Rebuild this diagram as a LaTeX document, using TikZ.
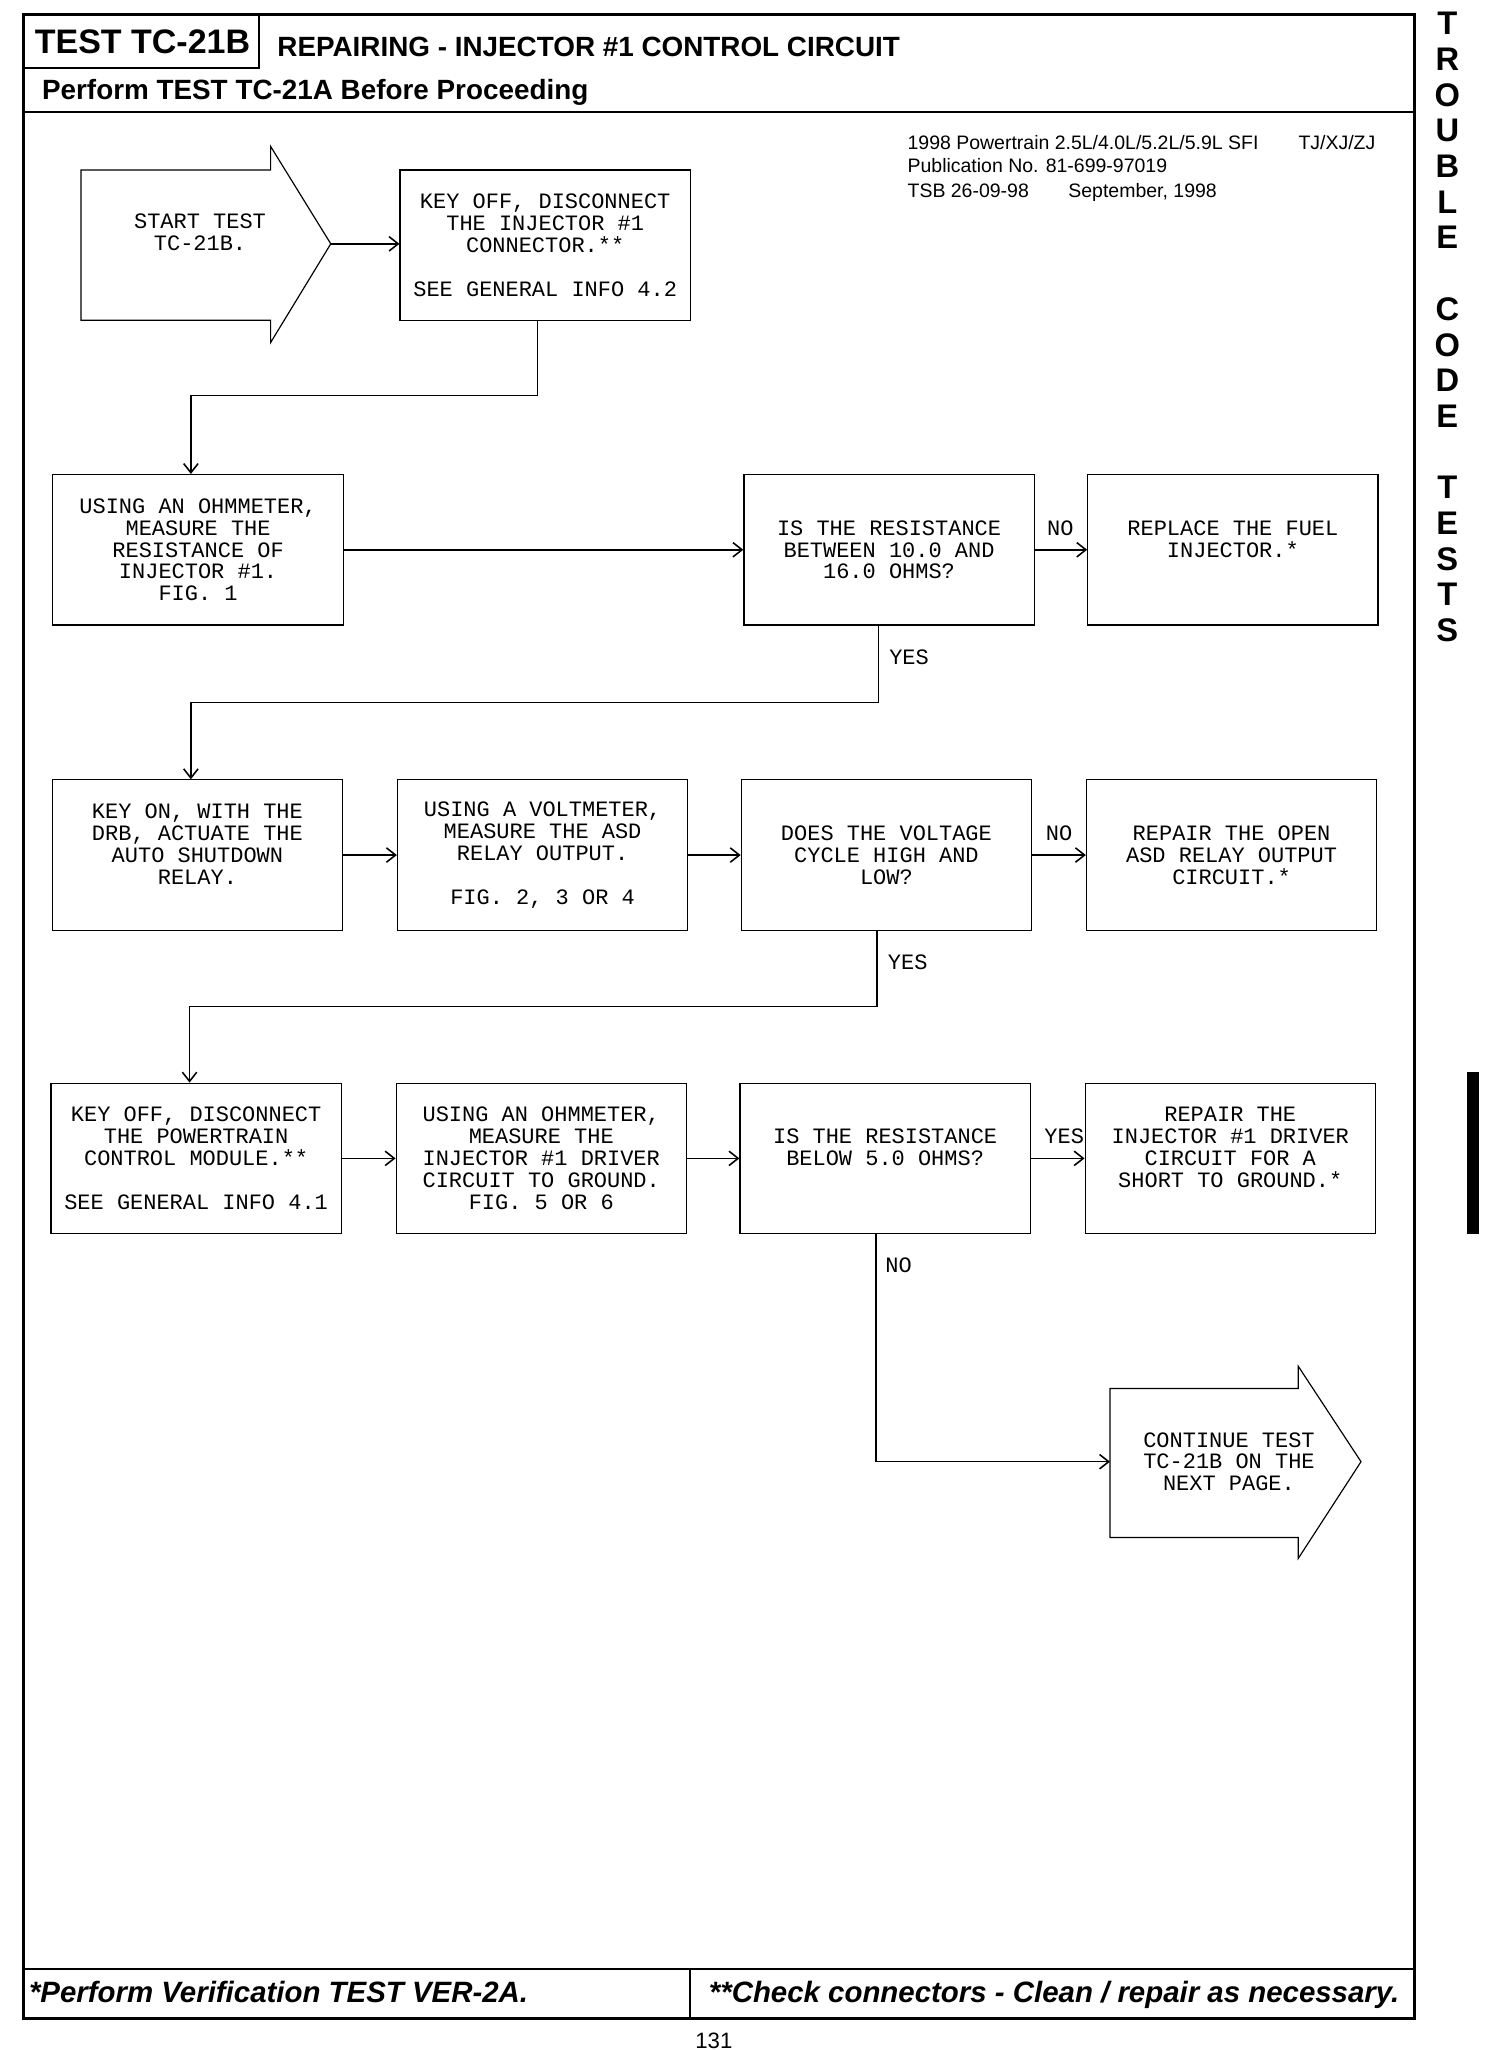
\documentclass[tikz,border=0pt]{standalone}
\usepackage{fontspec}
\setmainfont{Liberation Sans}
\newfontfamily\monof{Liberation Mono}
\usetikzlibrary{arrows.meta,calc}
\begin{document}
\begin{tikzpicture}[x=1pt,y=-1pt,
  boxfont/.style={font=\monof\fontsize{16.8}{16.7}\selectfont},
  box/.style={draw,line width=0.9pt,minimum width=222pt,minimum height=115pt,inner sep=0pt,align=center,boxfont},
  lbl/.style={inner sep=0pt,boxfont},
  txt/.style={inner sep=0pt,align=center,boxfont},
  conn/.style={line width=1.2pt,-{Straight Barb[length=7pt,width=11pt]}},
  shapeline/.style={line width=0.9pt},
  frameline/.style={line width=2pt},
  hdr/.style={inner sep=0pt,anchor=base west,font=\bfseries\fontsize{21.3}{24}\selectfont},
  info/.style={inner sep=0pt,anchor=base west,font=\fontsize{14.9}{17}\selectfont},
  side/.style={inner sep=0pt,font=\bfseries\fontsize{25}{25}\selectfont},
  foot/.style={inner sep=0pt,anchor=base west,font=\bfseries\itshape\fontsize{22.5}{25}\selectfont}
]
\useasboundingbox (0,0) rectangle (1150,1568);

% page frame
\draw[frameline] (18,11) rectangle (1082,1544);
\draw[line width=1.6pt] (18,11) rectangle (198,52);
\draw[line width=1.6pt] (18,86) -- (1082,86);
\draw[line width=1.6pt] (18,1506) -- (1082,1506);
\draw[line width=1.6pt] (528,1506) -- (528,1544);

% header texts
\node[inner sep=0pt,font=\bfseries\fontsize{26}{28}\selectfont] (tnum) at (109,32) {TEST TC-21B};
\node[hdr] (title) at (212,43) {REPAIRING - INJECTOR \#1 CONTROL CIRCUIT};
\node[hdr] (subtitle) at (32,76) {Perform TEST TC-21A Before Proceeding};
\node[info] (info1) at (694,114) {1998 Powertrain 2.5L/4.0L/5.2L/5.9L SFI};
\node[info] (info1b) at (993,114) {TJ/XJ/ZJ};
\node[info] (info2) at (694,132) {Publication No. 81-699-97019};
\node[info] (info3) at (694,151) {TSB 26-09-98};
\node[info] (info3b) at (817,151) {September, 1998};

% footer texts
\node[foot] (foot1) at (22,1532) {*Perform Verification TEST VER-2A.};
\node[foot] (foot2) at (542,1532) {**Check connectors - Clean / repair as necessary.};
\node[inner sep=0pt,font=\fontsize{17}{19}\selectfont] (pagenum) at (546,1561) {131};

% side tab
\foreach \k/\L in {0/T,1/R,2/O,3/U,4/B,5/L,6/E,8/C,9/O,10/D,11/E,13/T,14/E,15/S,16/T,17/S}
  \node[side] (side\k) at (1107,{18+27.3*\k}) {\L};
\fill (1122,820) rectangle (1131,944);

% start arrow
\draw[shapeline] (62,130) -- (207,130) -- (207,112) -- (253,186.5) -- (207,262) -- (207,245) -- (62,245) -- cycle;
\coordinate (starttip) at (253,186.5);
\node[txt] (start) at (153,186) {START TEST\\TC-21B.\\~};

% boxes
\node[box] (b1) at (417,187.5) {KEY OFF, DISCONNECT\\THE INJECTOR \#1\\CONNECTOR.**\\~\\SEE GENERAL INFO 4.2};

\node[box,minimum width=223pt] (bA) at (151.5,420.5) {USING AN OHMMETER,\\MEASURE THE\\RESISTANCE OF\\INJECTOR \#1.\\FIG. 1};
\node[box] (bB) at (680,420.5) {IS THE RESISTANCE\\BETWEEN 10.0 AND\\16.0 OHMS?};
\node[box] (bC) at (943,420.5) {REPLACE THE FUEL\\INJECTOR.*\\~};

\node[box] (bD) at (151,654) {KEY ON, WITH THE\\DRB, ACTUATE THE\\AUTO SHUTDOWN\\RELAY.\\~};
\node[box] (bE) at (415,654) {USING A VOLTMETER,\\MEASURE THE ASD\\RELAY OUTPUT.\\~\\FIG. 2, 3 OR 4};
\node[box] (bF) at (678,654) {DOES THE VOLTAGE\\CYCLE HIGH AND\\LOW?};
\node[box] (bG) at (942,654) {REPAIR THE OPEN\\ASD RELAY OUTPUT\\CIRCUIT.*};

\node[box] (bH) at (150,886) {KEY OFF, DISCONNECT\\THE POWERTRAIN\\CONTROL MODULE.**\\~\\SEE GENERAL INFO 4.1};
\node[box] (bI) at (414,886) {USING AN OHMMETER,\\MEASURE THE\\INJECTOR \#1 DRIVER\\CIRCUIT TO GROUND.\\FIG. 5 OR 6};
\node[box] (bJ) at (677,886) {IS THE RESISTANCE\\BELOW 5.0 OHMS?\\~};
\node[box] (bK) at (941,886) {REPAIR THE\\INJECTOR \#1 DRIVER\\CIRCUIT FOR A\\SHORT TO GROUND.*\\~};

% end arrow
\draw[shapeline] (849,1062) -- (993,1062) -- (993,1045) -- (1041,1118) -- (993,1192) -- (993,1176) -- (849,1176) -- cycle;
\coordinate (endin) at (849,1118);
\node[txt] (endtxt) at (940,1118) {CONTINUE TEST\\TC-21B ON THE\\NEXT PAGE.};

% connectors
\draw[conn] (starttip) -- (starttip -| b1.west);
\draw[conn] ([xshift=-6pt]b1.south) -- ++(0,57) -| ([xshift=-5.5pt]bA.north);
\draw[conn] (bA.east) -- (bB.west);
\draw[conn] (bB.east) -- (bC.west);
\draw[conn] ([xshift=-8pt]bB.south) -- ++(0,59) -| ([xshift=-5pt]bD.north);
\draw[conn] (bD.east) -- (bE.west);
\draw[conn] (bE.east) -- (bF.west);
\draw[conn] (bF.east) -- (bG.west);
\draw[conn] ([xshift=-7pt]bF.south) -- ++(0,58) -| ([xshift=-5pt]bH.north);
\draw[conn] (bH.east) -- (bI.west);
\draw[conn] (bI.east) -- (bJ.west);
\draw[conn] (bJ.east) -- (bK.west);
\draw[conn] ([xshift=-7pt]bJ.south) |- (endin);

% connector labels
\node[lbl] (noB) at (811,404) {NO};
\node[lbl,anchor=west] (yesB) at (680,503) {YES};
\node[lbl] (noF) at (810,637) {NO};
\node[lbl,anchor=west] (yesF) at (679,736) {YES};
\node[lbl] (yesJ) at (814,869) {YES};
\node[lbl,anchor=west] (noJ) at (677,968) {NO};
\end{tikzpicture}
\end{document}
